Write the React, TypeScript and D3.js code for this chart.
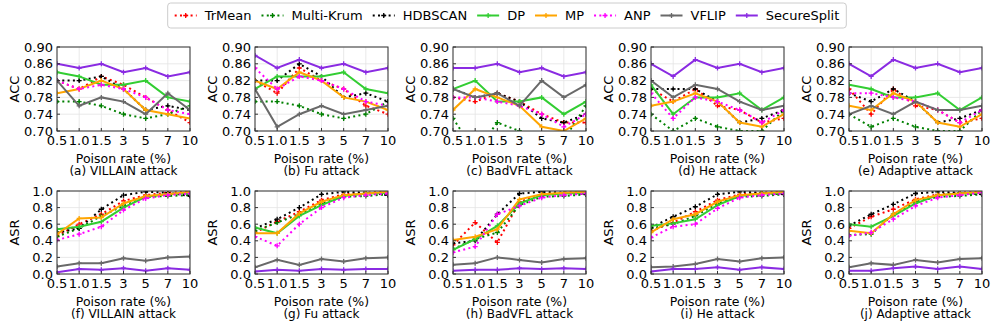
import React from "react";
import * as d3 from "d3";

const categories = ["0.5", "1.0", "1.5", "3", "5", "7", "10"];
const methods = ["TrMean", "Multi-Krum", "HDBSCAN", "DP", "MP", "ANP", "VFLIP", "SecureSplit"];
const colors = ["#ff0000", "#008000", "#000000", "#32cd32", "#ffa500", "#ff00ff", "#696969", "#8a2be2"];
const dotted = [true, true, true, false, false, true, false, false];
const attacks = ["VILLAIN", "Fu", "BadVFL", "He", "Adaptive"];
const accTicks = [0.7, 0.74, 0.78, 0.82, 0.86, 0.9];
const asrTicks = [0, 0.2, 0.4, 0.6, 0.8, 1.0];

// ACC, one row per method (same order as methods)
const accVillain = [
  [0.82, 0.8, 0.83, 0.81, 0.78, 0.75, 0.72],
  [0.77, 0.77, 0.76, 0.74, 0.73, 0.74, 0.76],
  [0.82, 0.82, 0.83, 0.8, 0.75, 0.76, 0.75],
  [0.84, 0.83, 0.81, 0.81, 0.82, 0.78, 0.77],
  [0.79, 0.8, 0.82, 0.8, 0.75, 0.74, 0.73],
  [0.82, 0.8, 0.81, 0.8, 0.78, 0.75, 0.74],
  [0.82, 0.76, 0.78, 0.77, 0.74, 0.79, 0.75],
  [0.86, 0.85, 0.86, 0.84, 0.85, 0.83, 0.84],
];
const accFu = [
  [0.82, 0.79, 0.85, 0.82, 0.8, 0.76, 0.74],
  [0.77, 0.77, 0.76, 0.74, 0.73, 0.74, 0.77],
  [0.82, 0.82, 0.86, 0.83, 0.78, 0.79, 0.77],
  [0.8, 0.83, 0.83, 0.83, 0.84, 0.8, 0.79],
  [0.82, 0.8, 0.84, 0.82, 0.78, 0.77, 0.75],
  [0.85, 0.8, 0.83, 0.82, 0.8, 0.77, 0.76],
  [0.8, 0.71, 0.74, 0.76, 0.74, 0.75, 0.76],
  [0.88, 0.85, 0.87, 0.85, 0.86, 0.84, 0.85],
];
const accBadVFL = [
  [0.78, 0.77, 0.79, 0.77, 0.74, 0.72, 0.72],
  [0.73, 0.65, 0.72, 0.7, 0.66, 0.68, 0.76],
  [0.8, 0.78, 0.79, 0.77, 0.73, 0.72, 0.74],
  [0.8, 0.82, 0.77, 0.77, 0.78, 0.74, 0.77],
  [0.75, 0.8, 0.78, 0.76, 0.71, 0.7, 0.73],
  [0.78, 0.78, 0.77, 0.76, 0.74, 0.71, 0.74],
  [0.8, 0.78, 0.79, 0.76, 0.82, 0.78, 0.81],
  [0.85, 0.85, 0.86, 0.84, 0.85, 0.83, 0.84],
];
const accHe = [
  [0.8, 0.77, 0.8, 0.76, 0.75, 0.72, 0.73],
  [0.74, 0.7, 0.73, 0.71, 0.7, 0.7, 0.75],
  [0.8, 0.8, 0.8, 0.77, 0.72, 0.73, 0.75],
  [0.81, 0.74, 0.78, 0.78, 0.79, 0.75, 0.78],
  [0.76, 0.77, 0.79, 0.77, 0.72, 0.71, 0.74],
  [0.79, 0.73, 0.78, 0.77, 0.75, 0.72, 0.75],
  [0.82, 0.78, 0.81, 0.8, 0.77, 0.75, 0.76],
  [0.86, 0.83, 0.87, 0.85, 0.86, 0.84, 0.85],
];
const accAdaptive = [
  [0.8, 0.74, 0.8, 0.76, 0.75, 0.72, 0.73],
  [0.74, 0.71, 0.73, 0.71, 0.7, 0.7, 0.75],
  [0.79, 0.77, 0.8, 0.77, 0.72, 0.73, 0.75],
  [0.81, 0.8, 0.78, 0.78, 0.79, 0.75, 0.78],
  [0.76, 0.75, 0.79, 0.77, 0.72, 0.71, 0.74],
  [0.79, 0.79, 0.78, 0.77, 0.75, 0.72, 0.75],
  [0.74, 0.76, 0.74, 0.77, 0.75, 0.75, 0.76],
  [0.86, 0.83, 0.87, 0.85, 0.86, 0.84, 0.85],
];

// ASR
const asrVillain = [
  [0.46, 0.6, 0.72, 0.88, 0.95, 0.98, 0.99],
  [0.45, 0.55, 0.7, 0.82, 0.93, 0.94, 0.95],
  [0.5, 0.55, 0.78, 0.95, 0.99, 0.98, 0.94],
  [0.54, 0.57, 0.63, 0.8, 0.93, 0.96, 0.98],
  [0.48, 0.67, 0.68, 0.85, 0.94, 0.96, 0.99],
  [0.41, 0.48, 0.57, 0.77, 0.91, 0.95, 0.97],
  [0.09, 0.13, 0.13, 0.19, 0.16, 0.2, 0.21],
  [0.02, 0.06, 0.05, 0.07, 0.04, 0.07, 0.05],
];
const asrFu = [
  [0.5, 0.63, 0.75, 0.89, 0.96, 0.98, 0.99],
  [0.52, 0.62, 0.72, 0.85, 0.93, 0.94, 0.96],
  [0.55, 0.66, 0.8, 0.96, 0.99, 0.98, 0.95],
  [0.56, 0.49, 0.7, 0.83, 0.94, 0.97, 0.98],
  [0.49, 0.49, 0.73, 0.87, 0.95, 0.97, 0.99],
  [0.45, 0.34, 0.6, 0.8, 0.92, 0.95, 0.97],
  [0.08, 0.17, 0.11, 0.18, 0.15, 0.19, 0.2],
  [0.03, 0.05, 0.04, 0.06, 0.05, 0.06, 0.06],
];
const asrBadVFL = [
  [0.35, 0.62, 0.38, 0.87, 0.96, 0.98, 0.99],
  [0.3, 0.42, 0.5, 0.83, 0.93, 0.94, 0.96],
  [0.37, 0.4, 0.72, 0.97, 0.99, 0.98, 0.96],
  [0.29, 0.42, 0.58, 0.85, 0.95, 0.97, 0.98],
  [0.41, 0.45, 0.54, 0.9, 0.96, 0.98, 0.99],
  [0.26, 0.33, 0.72, 0.82, 0.92, 0.95, 0.97],
  [0.11, 0.13, 0.2, 0.17, 0.14, 0.18, 0.19],
  [0.04, 0.05, 0.05, 0.07, 0.06, 0.07, 0.06],
];
const asrHe = [
  [0.52, 0.62, 0.75, 0.89, 0.96, 0.98, 0.99],
  [0.55, 0.6, 0.7, 0.85, 0.93, 0.94, 0.96],
  [0.56, 0.69, 0.81, 0.96, 0.99, 0.98, 0.96],
  [0.58, 0.61, 0.66, 0.83, 0.94, 0.97, 0.98],
  [0.5, 0.66, 0.72, 0.87, 0.95, 0.97, 0.99],
  [0.44, 0.57, 0.6, 0.79, 0.92, 0.95, 0.97],
  [0.08, 0.09, 0.12, 0.18, 0.15, 0.19, 0.2],
  [0.03, 0.06, 0.06, 0.08, 0.05, 0.08, 0.06],
];
const asrAdaptive = [
  [0.55, 0.69, 0.78, 0.9, 0.96, 0.98, 0.99],
  [0.47, 0.48, 0.72, 0.87, 0.93, 0.94, 0.96],
  [0.58, 0.72, 0.84, 0.97, 0.99, 0.98, 0.96],
  [0.6, 0.57, 0.7, 0.85, 0.95, 0.97, 0.98],
  [0.52, 0.49, 0.72, 0.89, 0.95, 0.97, 0.99],
  [0.46, 0.5, 0.66, 0.82, 0.92, 0.95, 0.98],
  [0.08, 0.13, 0.11, 0.17, 0.14, 0.18, 0.19],
  [0.04, 0.04, 0.07, 0.09, 0.06, 0.09, 0.06],
];

const accData = [accVillain, accFu, accBadVFL, accHe, accAdaptive];
const asrData = [asrVillain, asrFu, asrBadVFL, asrHe, asrAdaptive];

const W = 997;
const H = 329;
const FONT = "DejaVu Sans";
const left0 = 57;
const step = 198;
const plotW = 133;
const rows = [
  { top: 47, bottom: 131, label: "ACC", domain: [0.7, 0.9], ticks: accTicks, fmt: d3.format(".2f"), data: accData, letters: "abcde" },
  { top: 191, bottom: 274, label: "ASR", domain: [0, 1], ticks: asrTicks, fmt: d3.format(".1f"), data: asrData, letters: "fghij" },
];

const measure = (s: string, size: number) => {
  const ctx = document.createElement("canvas").getContext("2d")!;
  ctx.font = `${size}px '${FONT}'`;
  return ctx.measureText(s).width;
};

const Marker = ({ x, y, color }: { x: number; y: number; color: string }) => (
  <path d={`M${x - 2.5},${y}H${x + 2.5}M${x},${y - 2.5}V${y + 2.5}`} stroke={color} strokeWidth={1.3} />
);

const Panel = ({ idx, row, ri }: { idx: number; row: any; ri: number }) => {
  const left = left0 + idx * step;
  const x = d3.scalePoint<string>().domain(categories).range([left, left + plotW]);
  const y = d3.scaleLinear().domain(row.domain).range([row.bottom, row.top]);
  const series: number[][] = row.data[idx];
  const line = d3
    .line<number>()
    .x((_, i) => x(categories[i])!)
    .y((v) => y(v));
  const clipId = `clip-${ri}-${idx}`;
  const cx = left + plotW / 2;
  return (
    <g>
      <defs>
        <clipPath id={clipId}>
          <rect x={left} y={row.top} width={plotW} height={row.bottom - row.top} />
        </clipPath>
      </defs>
      {row.ticks.map((t: number) => (
        <line key={"gy" + t} x1={left} x2={left + plotW} y1={y(t)} y2={y(t)} stroke="#e3e3e3" strokeWidth={0.8} />
      ))}
      {categories.map((c) => (
        <line key={"gx" + c} x1={x(c)} x2={x(c)} y1={row.top} y2={row.bottom} stroke="#e3e3e3" strokeWidth={0.8} />
      ))}
      <g clipPath={`url(#${clipId})`}>
        {series.map((vals, m) => (
          <g key={methods[m]}>
            <path
              d={line(vals)!}
              fill="none"
              stroke={colors[m]}
              strokeWidth={2}
              strokeDasharray={dotted[m] ? "2,3.3" : undefined}
            />
            {vals.map((v, i) => (
              <Marker key={i} x={x(categories[i])!} y={y(v)} color={colors[m]} />
            ))}
          </g>
        ))}
      </g>
      <rect x={left} y={row.top} width={plotW} height={row.bottom - row.top} fill="none" stroke="#333" strokeWidth={1} />
      {row.ticks.map((t: number) => (
        <g key={"ty" + t}>
          <line x1={left} x2={left + 3} y1={y(t)} y2={y(t)} stroke="#333" />
          <text x={left - 4} y={y(t)} dy="0.36em" textAnchor="end" fontSize={13} fontFamily={FONT}>
            {row.fmt(t)}
          </text>
        </g>
      ))}
      {categories.map((c) => (
        <g key={"tx" + c}>
          <line x1={x(c)} x2={x(c)} y1={row.bottom} y2={row.bottom - 3} stroke="#333" />
          <text x={x(c)} y={row.bottom + 4} dy="0.76em" textAnchor="middle" fontSize={13} fontFamily={FONT}>
            {c}
          </text>
        </g>
      ))}
      <text
        transform={`translate(${left - 43},${(row.top + row.bottom) / 2}) rotate(-90)`}
        textAnchor="middle"
        dy="0.36em"
        fontSize={13}
        fontFamily={FONT}
      >
        {row.label}
      </text>
      <text x={cx} y={row.bottom + 27} dy="0.36em" textAnchor="middle" fontSize={12.5} fontFamily={FONT}>
        Poison rate (%)
      </text>
      <text x={cx} y={row.bottom + 40} dy="0.36em" textAnchor="middle" fontSize={12} fontFamily={FONT}>
        {`(${row.letters[idx]}) ${attacks[idx]} attack`}
      </text>
    </g>
  );
};

const Legend = () => {
  const size = 13;
  const handle = 22;
  const pad = 8;
  const gap = 10;
  const box = 7;
  const widths = methods.map((m) => measure(m, size));
  const total = widths.reduce((a, b) => a + b, 0) + methods.length * (handle + pad) + (methods.length - 1) * gap + 2 * box;
  const cxLegend = 507;
  const x0 = cxLegend - total / 2;
  const yMid = 15.5;
  let cur = x0 + box;
  const items = methods.map((m, i) => {
    const start = cur;
    cur += handle + pad + widths[i] + gap;
    return { m, i, start };
  });
  return (
    <g>
      <rect x={x0} y={3} width={total} height={25} rx={3} fill="white" stroke="#cccccc" strokeWidth={1} />
      {items.map(({ m, i, start }) => (
        <g key={m}>
          <line
            x1={start}
            x2={start + handle}
            y1={yMid}
            y2={yMid}
            stroke={colors[i]}
            strokeWidth={2}
            strokeDasharray={dotted[i] ? "2,3.3" : undefined}
          />
          <Marker x={start + handle / 2} y={yMid} color={colors[i]} />
          <text x={start + handle + pad} y={yMid} dy="0.36em" fontSize={size} fontFamily={FONT}>
            {m}
          </text>
        </g>
      ))}
    </g>
  );
};

export default function App() {
  return (
    <svg
      width={W}
      height={H}
      viewBox={`0 0 ${W} ${H}`}
      style={{ position: "absolute", left: 0, top: 0, background: "white" }}
    >
      {rows.map((row, ri) => attacks.map((_, idx) => <Panel key={`${ri}-${idx}`} idx={idx} row={row} ri={ri} />))}
      <Legend />
    </svg>
  );
}
